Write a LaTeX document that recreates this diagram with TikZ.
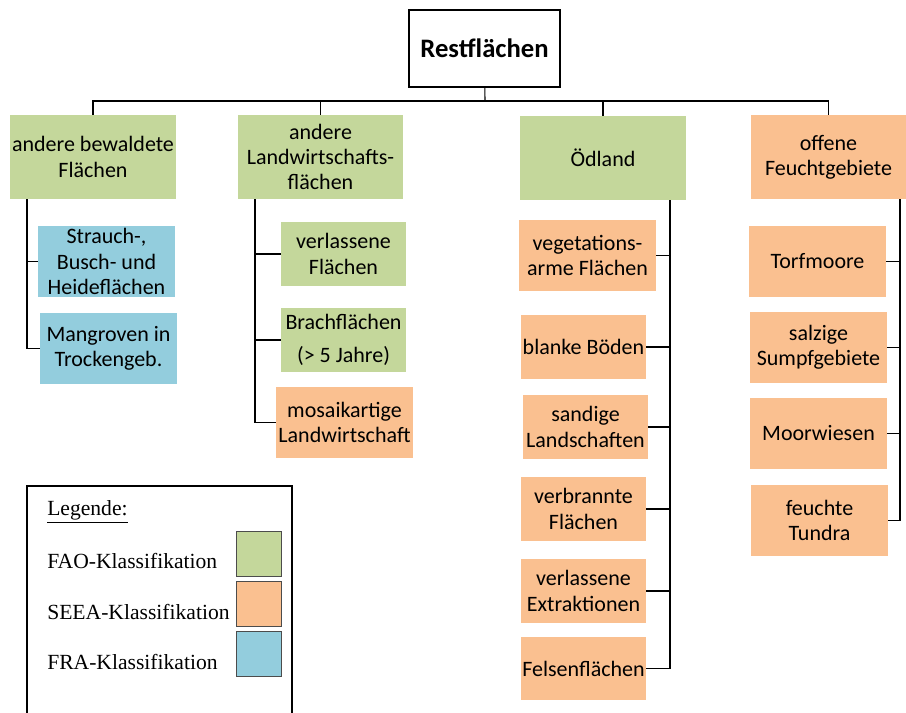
\documentclass[tikz,border=0pt]{standalone}
\usepackage{fontspec}
\setmainfont{Carlito}
\newfontfamily\legfont{Liberation Serif}
\usepackage{tikz}
\definecolor{faogreen}{HTML}{C4D79B}
\definecolor{seeaorange}{HTML}{FAC090}
\definecolor{frablue}{HTML}{93CDDD}
\newcommand{\cellfont}{\fontsize{16.5}{19}\selectfont}
\newcommand{\legtext}{\legfont\fontsize{16.2}{19}\selectfont}
\tikzset{
  cell/.style={inner sep=0pt, align=center, font=\cellfont},
  fao/.style={cell, fill=faogreen},
  seea/.style={cell, fill=seeaorange},
  fra/.style={cell, fill=frablue},
  link/.style={line width=0.8pt, black}
}

\begin{document}
\begin{tikzpicture}[x=0.75pt, y=-0.75pt]
    \useasboundingbox (0,0) rectangle (906,713);
    % Wurzel und erste Ebene
    \node[cell, draw, line width=0.8pt, minimum width=113.25pt, minimum height=57.75pt,
          font=\fontsize{20}{23}\selectfont\bfseries] (root) at (484.5,48.5) {Restflächen};
    \node[fao, minimum width=124.5pt, minimum height=63pt] (wald) at (93,157) {andere bewaldete\\Flächen};
    \node[fao, minimum width=123.75pt, minimum height=63pt] (landw) at (320.5,157) {andere\\Landwirtschafts-\\flächen};
    \node[fao, minimum width=124.5pt, minimum height=63pt] (oed) at (603,158) {Ödland};
    \node[seea, minimum width=116.25pt, minimum height=63pt] (feucht) at (828.5,157) {offene\\Feuchtgebiete};
    \coordinate (bus) at (485,101);
    \draw[link] (root) -- (bus);
    \foreach \n in {wald, landw, oed, feucht} \draw[link] (bus) -| (\n.north);

    % andere bewaldete Flaechen
    \node[fra, minimum width=102.75pt, minimum height=53.25pt] (strauch) at (106.5,261.5) {Strauch-,\\Busch- und\\Heideflächen};
    \node[fra, minimum width=102.75pt, minimum height=53.25pt] (mangr) at (108.5,348.5) {Mangroven in\\Trockengeb.};
    \coordinate (waldS) at (27,199);
    \foreach \n in {strauch, mangr} \draw[link] (waldS) |- (\n.west);

    % andere Landwirtschaftsflaechen
    \node[fao, minimum width=93.75pt, minimum height=48pt] (verl) at (343.5,254) {verlassene\\Flächen};
    \node[fao, minimum width=93.75pt, minimum height=48pt] (brach) at (343.5,340) {Brachflächen\\[6pt](> 5 Jahre)};
    \node[seea, minimum width=102.75pt, minimum height=53.25pt] (mosaik) at (344.5,422.5) {mosaikartige\\Landwirtschaft};
    \coordinate (landwS) at (255,199);
    \foreach \n in {verl, brach, mosaik} \draw[link] (landwS) |- (\n.west);

    % Oedland
    \node[seea, minimum width=102.75pt, minimum height=53.25pt] (veg) at (587.5,255.5) {vegetations-\\arme Flächen};
    \node[seea, minimum width=93.75pt, minimum height=48pt] (blank) at (583.5,347) {blanke Böden};
    \node[seea, minimum width=93.75pt, minimum height=48pt] (sand) at (585.5,427) {sandige\\Landschaften};
    \node[seea, minimum width=93.75pt, minimum height=48pt] (brand) at (583.5,509) {verbrannte\\Flächen};
    \node[seea, minimum width=93.75pt, minimum height=48pt] (extr) at (583.5,591) {verlassene\\Extraktionen};
    \node[seea, minimum width=93.75pt, minimum height=47.25pt] (fels) at (583.5,668.5) {Felsenflächen};
    \coordinate (oedS) at (670,200);
    \foreach \n in {veg, blank, sand, brand, extr, fels} \draw[link] (oedS) |- (\n.east);

    % offene Feuchtgebiete
    \node[seea, minimum width=102.75pt, minimum height=53.25pt] (torf) at (817.5,261.5) {Torfmoore};
    \node[seea, minimum width=102.75pt, minimum height=53.25pt] (salz) at (818.5,347.5) {salzige\\Sumpfgebiete};
    \node[seea, minimum width=102.75pt, minimum height=53.25pt] (moor) at (818.5,433.5) {Moorwiesen};
    \node[seea, minimum width=102.75pt, minimum height=53.25pt] (tundra) at (819.5,520.5) {feuchte\\Tundra};
    \coordinate (feuchtS) at (900,199);
    \foreach \n in {torf, salz, moor, tundra} \draw[link] (feuchtS) |- (\n.east);

    % Legende
    \draw[line width=0.9pt] (27,713) -- (27,486) -- (292,486) -- (292,713);
    \node[anchor=west, inner sep=0pt, font=\legtext] (leg) at (47,512) {\underline{Legende:}};
    \node[anchor=west, inner sep=0pt, font=\legtext] (lfao) at (47,561) {FAO-Klassifikation};
    \node[anchor=west, inner sep=0pt, font=\legtext] (lseea) at (47,612) {SEEA-Klassifikation};
    \node[anchor=west, inner sep=0pt, font=\legtext] (lfra) at (47,662) {FRA-Klassifikation};
    \node[fill=faogreen, draw=black!70, minimum size=33.75pt] (sfao) at (258.5,553.5) {};
    \node[fill=seeaorange, draw=black!70, minimum size=33.75pt] (sseea) at (258.5,603.5) {};
    \node[fill=frablue, draw=black!70, minimum size=33.75pt] (sfra) at (258.5,654) {};
\end{tikzpicture}
\end{document}
